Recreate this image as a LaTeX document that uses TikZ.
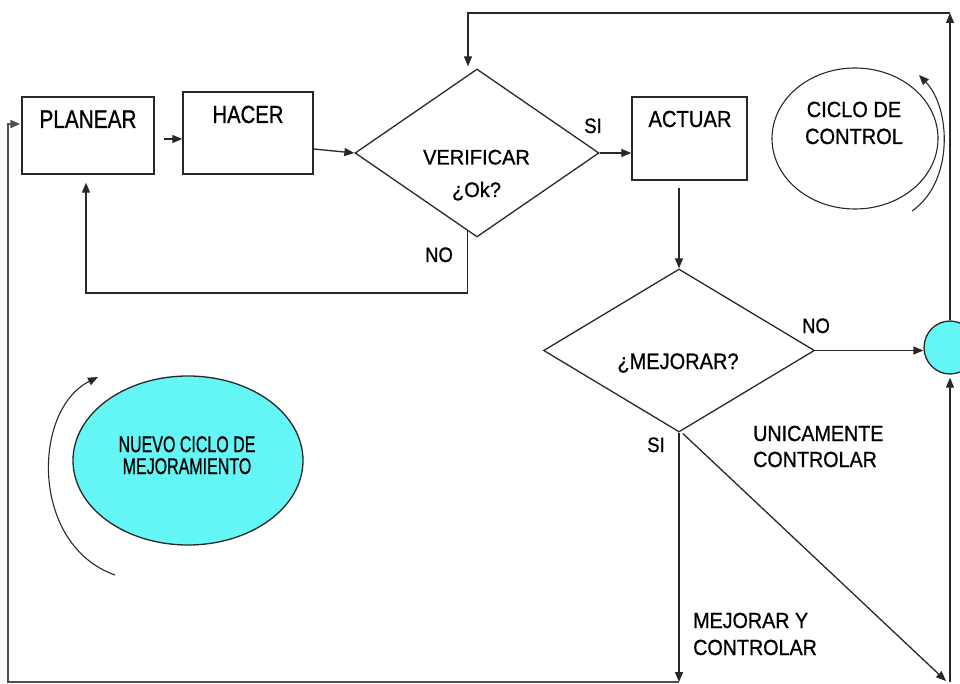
\documentclass[tikz,border=0pt]{standalone}
\usepackage{fontspec}
\setmainfont{Liberation Sans}[FakeBold=0.9]
\usepackage{graphicx}
\usetikzlibrary{shapes.geometric,arrows.meta,calc}

\definecolor{ink}{RGB}{40,40,40}
\definecolor{heavyink}{RGB}{80,80,80}
\definecolor{aqua}{RGB}{100,245,245}

% size, vertical stretch, text
\newcommand\txt[3]{{\fontsize{#1}{#1}\selectfont\scalebox{1}[#2]{#3}}}
% two stacked lines: column type, first line, extra gap, second line
\newcommand\duo[4]{\begin{tabular}[b]{@{}#1@{}}#2\\[#3]#4\end{tabular}}

\begin{document}
\begin{tikzpicture}[x=1pt,y=-1pt,
  ln/.style={draw=ink,line width=1.3pt},
  arr/.style={ln,-{Triangle[length=10pt,width=8pt]}},
  arrH/.style={draw=heavyink,line width=2pt,-{Triangle[length=10pt,width=8pt]}},
  stepbox/.style={draw=ink,line width=1.4pt,rectangle,inner sep=0pt},
  decision/.style={draw=ink,line width=1.3pt,diamond,inner sep=0pt},
  oval/.style={draw=ink,line width=1.3pt,ellipse,inner sep=0pt},
  lbl/.style={anchor=base,inner sep=0pt,text=black}]

\useasboundingbox (0,0) rectangle (960,684);

% ---- shapes ----
\node[stepbox,minimum width=132pt,minimum height=77pt] (plan)   at (88,135.5)  {};
\node[stepbox,minimum width=130pt,minimum height=82pt] (hacer)  at (248,133)   {};
\node[stepbox,minimum width=115pt,minimum height=83pt] (actuar) at (689.5,138.5) {};
\node[decision,minimum width=244pt,minimum height=168pt] (verif) at (477,153) {};
\node[decision,minimum width=271pt,minimum height=163pt] (mej)   at (679,350.5) {};
\node[oval,minimum width=166pt,minimum height=141pt,line width=1.1pt] (ctrl) at (855,138.5) {};
\node[oval,fill=aqua,minimum width=230pt,minimum height=169pt] (nuevo) at (188,460.5) {};
\node[oval,fill=aqua,minimum width=52pt,minimum height=53pt] (circ) at (950,347.5) {};

% ---- labels ----
\node[lbl] (tPlan)  at (88,128)  {\txt{20.8}{1.23}{PLANEAR}};
\node[lbl] (tHacer) at (248,123) {\txt{20.3}{1.22}{HACER}};
\node[lbl] (tAct)   at (690,127) {\txt{20.2}{1.15}{ACTUAR}};
\node[lbl] (tVer)   at (476.5,197) {\txt{20}{1.05}{\duo{c}{VERIFICAR}{10.5pt}{¿Ok?}}};
\node[lbl] (tSi1)   at (593,133) {\txt{18.5}{1.13}{SI}};
\node[lbl] (tNo1)   at (439,262) {\txt{18.5}{1.13}{NO}};
\node[lbl] (tCtrl)  at (854,144) {\txt{20}{1.1}{\duo{c}{CICLO DE}{4.5pt}{CONTROL}}};
\node[lbl] (tMej)   at (678,369) {\txt{20}{1.12}{¿MEJORAR?}};
\node[lbl] (tNo2)   at (816,333) {\txt{18.5}{1.13}{NO}};
\node[lbl] (tSi2)   at (656,452) {\txt{18.5}{1.13}{SI}};
\node[lbl,anchor=base west] (tUni) at (753,467) {\txt{19.7}{1.11}{\duo{l}{UNICAMENTE}{3.7pt}{CONTROLAR}}};
\node[lbl,anchor=base west] (tMyc) at (693,655) {\txt{19.7}{1.11}{\duo{l}{MEJORAR Y}{4.6pt}{CONTROLAR}}};
\node[lbl] (tNuevo) at (187,474) {\txt{16}{1.42}{\duo{c}{NUEVO CICLO DE}{-0.6pt}{MEJORAMIENTO}}};

% ---- helper coordinates ----
\coordinate (noTurn) at (0,293);
\coordinate (topR)   at (950,13);
\coordinate (botY)   at (0,682);
\coordinate (dEnd)   at (946,681);
\coordinate (cA) at (912,211);
\coordinate (cB) at (919,75);
\coordinate (nA) at (115,575);
\coordinate (nB) at (98,377);

% ---- connectors ----
\draw[arr] ($(plan.east)+(9,3.5)$) -- ($(hacer.west)+(0,6)$);
\draw[arr] ($(hacer.east)+(0,16)$) -- (verif.west);
\draw[arr] (verif.east) -- (verif.east -| actuar.west);

% NO branch back to PLANEAR
\coordinate (noStart) at ($(verif.south)!0.08!(verif.west)$);
\draw[arr] (noStart) -- (noStart |- noTurn) -| ($(plan.south)+(-2,8)$);

% control loop along the top back to VERIFICAR
\draw[arr] (circ.north) -- (circ.north |- topR);
\draw[arr] (circ.north |- topR) -| ($(verif.north)+(-9,-2)$);

\draw[arr] ($(actuar.south -| mej.north)+(0,7)$) -- (mej.north);
\draw[arr] (mej.east) -- (mej.east -| circ.west);

% SI branch: improve and control
\draw[arr] (mej.south) -- (mej.south |- botY);
\draw[arrH] (mej.south |- botY) -| ($(plan.west)+(-13,-11.5)$) -- ($(plan.west)+(-1,-11.5)$);

% only control
\draw[arr] ($(mej.south)+(4,1)$) -- (dEnd);
\draw[arr] (circ.south |- botY) -- ($(circ.south)+(0,3)$);

% cycle arrows
\draw[arr,line width=1.1pt] (cA) .. controls (954,182) and (951,108) .. (cB);
\draw[arr,line width=1.1pt] (nA) .. controls (30,545) and (32,410) .. (nB);

\end{tikzpicture}
\end{document}
